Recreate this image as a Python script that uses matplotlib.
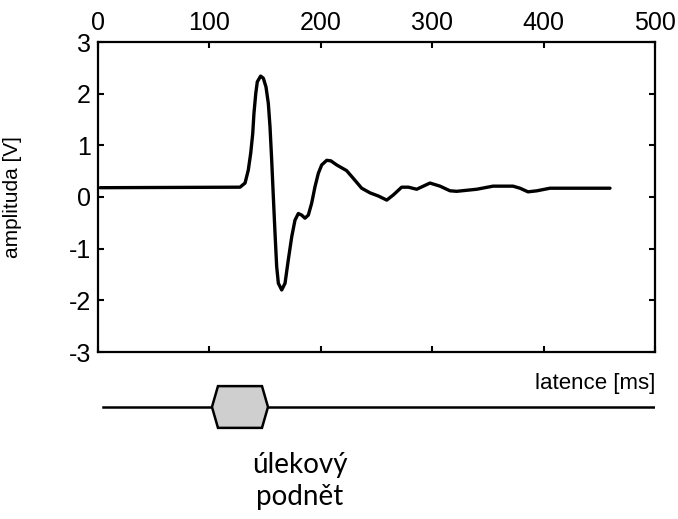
import numpy as np
import matplotlib.pyplot as plt
from matplotlib.patches import Polygon

# latency (ms) and amplitude (V)
latency = [2, 127.5, 132, 134.9, 137.1, 138.9, 140, 141.6, 143, 146, 148.4, 150.8, 152.9,
           154.4, 155.9, 157.4, 158.9, 160.4, 161.9, 164.9, 167.9, 170.8, 173.9, 176.8,
           179.8, 182.8, 185.8, 188.8, 191.8, 194.8, 197.8, 200.8, 205.3, 209,
           214.3, 223.2, 229.2, 236.7, 244.2, 251.6, 259.2, 265.1, 272.6, 278.6, 286.1,
           298, 307, 316, 322, 340, 354.6, 372.5, 378.8, 386, 394, 405.7, 459.6]
amplitude = [0.18, 0.19, 0.27, 0.52, 0.85, 1.23, 1.62, 2.0, 2.23, 2.34, 2.30, 2.13, 1.81,
             1.36, 0.72, 0.0, -0.70, -1.35, -1.67, -1.80, -1.67, -1.22, -0.77, -0.45,
             -0.32, -0.35, -0.41, -0.35, -0.12, 0.20, 0.46, 0.62, 0.71, 0.70,
             0.62, 0.51, 0.36, 0.17, 0.08, 0.02, -0.06, 0.04, 0.19, 0.19, 0.15,
             0.27, 0.21, 0.12, 0.11, 0.15, 0.21, 0.21, 0.17, 0.10, 0.12, 0.17, 0.17]

xticks = [0, 100, 200, 300, 400, 500]
yticks = [-3, -2, -1, 0, 1, 2, 3]

# stimulus marker (ms)
stim_start, stim_end = 102.3, 152.6
timeline_start = 4.5

plt.rcParams['font.family'] = ['Liberation Sans', 'DejaVu Sans']
plt.rcParams['axes.unicode_minus'] = False

fig = plt.figure(figsize=(6.78, 5.19), dpi=100)
ax = fig.add_axes([98/678, 1-352/519, 557/678, 310/519])

ax.plot(latency, amplitude, color='black', lw=2.4, solid_joinstyle='round',
        solid_capstyle='round')
ax.set_xlim(0, 500)
ax.set_ylim(-3, 3)
ax.set_xticks(xticks)
ax.set_yticks(yticks)
ax.tick_params(direction='in', top=True, right=True, bottom=True, left=True,
               labeltop=True, labelbottom=False, length=4, width=1.5,
               labelsize=18, pad=5)
for s in ax.spines.values():
    s.set_linewidth(1.6)
ax.set_ylabel('amplituda [V]', fontsize=15)
ax.yaxis.set_label_coords(-0.137, 0.5)

# timeline below
ax2 = fig.add_axes([98/678, 1-436/519, 557/678, 58/519])
ax2.set_xlim(0, 500)
ax2.set_ylim(-1, 1)
ax2.axis('off')
ax2.plot([timeline_start, 500], [0, 0], color='black', lw=1.8)
d = 5.4
hexagon = Polygon([[stim_start, 0], [stim_start + d, 0.72], [stim_end - d, 0.72],
                   [stim_end, 0], [stim_end - d, -0.72], [stim_start + d, -0.72]],
                  closed=True, facecolor='#cfcfcf', edgecolor='black', lw=1.8, zorder=3)
ax2.add_patch(hexagon)
ax2.text(500, 0.8, 'latence [ms]', ha='right', va='center', fontsize=16, clip_on=False)

fig.text(300/678, 1-465/519, 'úlekový', ha='center', va='center', fontsize=20,
         family=['Lato', 'DejaVu Sans'])
fig.text(300/678, 1-497/519, 'podnět', ha='center', va='center', fontsize=20,
         family=['Lato', 'DejaVu Sans'])

fig.savefig('out.png', dpi=100)
